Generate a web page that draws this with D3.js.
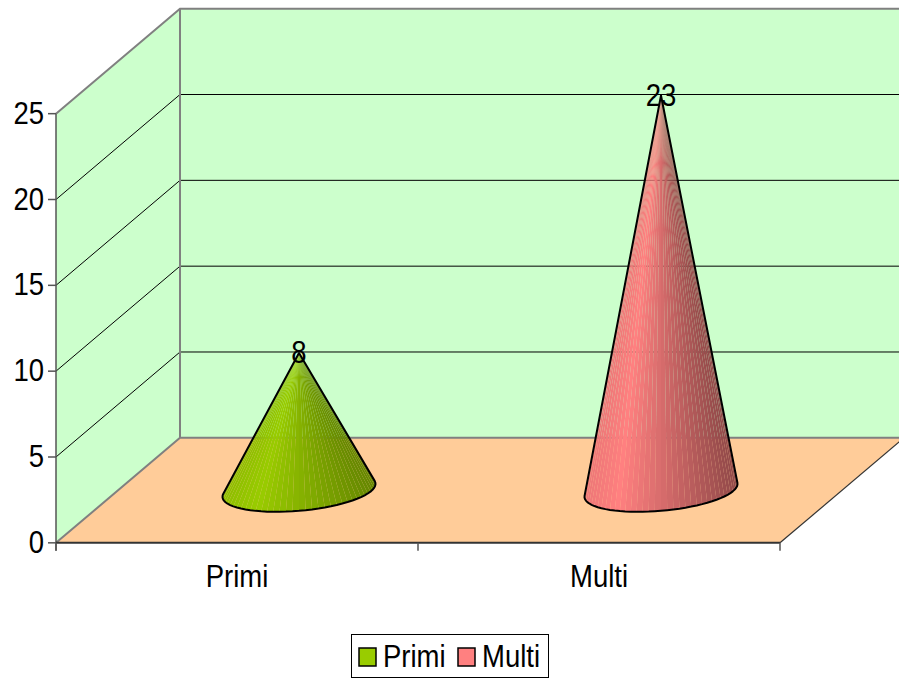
<!DOCTYPE html>
<html>
<head>
<meta charset="utf-8">
<style>
  html, body { margin: 0; padding: 0; background: #fff; }
  svg { display: block; }
  text { font-family: "Liberation Sans", Arial, sans-serif; fill: #000; }
</style>
<script src="https://cdn.jsdelivr.net/npm/d3@7"></script>
</head>
<body>
<svg id="chart" width="899" height="679"></svg>
<script>
// Chart data
const categories = ["Primi", "Multi"];
const values = [8, 23];
const colors = ["#99CC00", "#FF8080"];
const yTicks = [0, 5, 10, 15, 20, 25];

// Plot frame: front plane of the box plus the oblique depth offset
const frontLeft = 56, frontRight = 780, frontBottom = 542.83, frontTop = 113.67;
const depthX = 124, depthY = -105;
const fontSize = 27.5, textStretch = 1.13;

const svg = d3.select("#chart");
const x = d3.scaleBand().domain(categories).range([frontLeft, frontRight]);
const y = d3.scaleLinear().domain([0, 25]).range([frontBottom, frontTop]);
const path = d3.line();

const WALL = "#CCFFCC", FLOOR = "#FFCC99", EDGE = "#808080", DARK = "#333333";

// All labels share one slightly tall letterform
function label(parent, px, py, anchor, content) {
  return parent.append("text")
    .attr("transform", `translate(${px},${py}) scale(1,${textStretch})`)
    .attr("text-anchor", anchor).attr("font-size", fontSize)
    .text(content);
}

// Walls and floor
svg.append("path").attr("fill", WALL).attr("d", path([
  [frontLeft, y(0)], [frontLeft, y(25)],
  [frontLeft + depthX, y(25) + depthY], [frontRight + depthX, y(25) + depthY],
  [frontRight + depthX, y(0) + depthY], [frontLeft + depthX, y(0) + depthY]
]) + "Z");
svg.append("path").attr("fill", FLOOR).attr("d", path([
  [frontLeft, y(0)], [frontRight, y(0)],
  [frontRight + depthX, y(0) + depthY], [frontLeft + depthX, y(0) + depthY]
]) + "Z");

// Gridlines run along the side wall and across the back wall
yTicks.filter(t => t > 0 && t < 25).forEach(t => {
  svg.append("path").attr("fill", "none").attr("stroke", "#000").attr("stroke-width", 1)
    .attr("d", path([
      [frontLeft, y(t)], [frontLeft + depthX, y(t) + depthY], [frontRight + depthX, y(t) + depthY]
    ]));
});

// Box outline
const outline = svg.append("g").attr("fill", "none").attr("stroke", EDGE).attr("stroke-width", 2);
outline.append("path").attr("d", path([
  [frontLeft, y(25)], [frontLeft + depthX, y(25) + depthY], [frontRight + depthX, y(25) + depthY]
]));
outline.append("path").attr("d", path([
  [frontLeft + depthX, y(25) + depthY], [frontLeft + depthX, y(0) + depthY]
]));
outline.append("path").attr("d", path([
  [frontLeft, y(0)], [frontLeft + depthX, y(0) + depthY], [frontRight + depthX, y(0) + depthY]
]));

// Value axis
const axisG = svg.append("g").attr("stroke", "#555").attr("stroke-width", 1.5).attr("fill", "none");
axisG.append("line").attr("x1", frontLeft).attr("x2", frontLeft)
  .attr("y1", y(25)).attr("y2", y(0) + 8);
yTicks.forEach(t => {
  axisG.append("line").attr("x1", frontLeft - 8).attr("x2", frontLeft)
    .attr("y1", y(t)).attr("y2", y(t));
  label(svg, frontLeft - 12, y(t) + 10, "end", t);
});

// Category axis and front and right floor edges
svg.append("path").attr("fill", "none").attr("stroke", DARK).attr("stroke-width", 2)
  .attr("d", path([[frontLeft, y(0)], [frontRight, y(0)]]));
svg.append("path").attr("fill", "none").attr("stroke", DARK).attr("stroke-width", 1.2)
  .attr("d", path([[frontRight, y(0)], [frontRight + depthX, y(0) + depthY]]));
[frontLeft, x("Multi"), frontRight].forEach(px => {
  svg.append("line").attr("stroke", "#555").attr("stroke-width", 1.5)
    .attr("x1", px).attr("x2", px).attr("y1", y(0)).attr("y2", y(0) + 8);
});
categories.forEach(cat => {
  label(svg, x(cat) + x.bandwidth() / 2, 587, "middle", cat);
});

// Cones: faceted side surface above a tilted elliptical base
const baseRx = 76.8, baseRy = 20.4, baseTilt = -5.2 * Math.PI / 180;
const facetCount = 40;
const shadeEnd = [0.66, 0.57];

function toScreen(cx, cy, t) {
  const ex = baseRx * Math.cos(t), ey = baseRy * Math.sin(t);
  return [
    cx + ex * Math.cos(baseTilt) - ey * Math.sin(baseTilt),
    cy + ex * Math.sin(baseTilt) + ey * Math.cos(baseTilt)
  ];
}

categories.forEach((cat, i) => {
  const cx = x(cat) + x.bandwidth() / 2 + depthX / 2;
  const cy = y(0) + depthY / 2;
  const height = y(0) - y(values[i]);
  const apex = [cx, cy - height];
  const shade = d3.scaleLinear().domain([0, 0.22, 1]).range([0.93, 1, shadeEnd[i]]);

  // Tangent parameters of the silhouette, from the apex in the ellipse frame
  const dx = apex[0] - cx, dy = apex[1] - cy;
  const lx = (dx * Math.cos(baseTilt) + dy * Math.sin(baseTilt)) / baseRx;
  const ly = (-dx * Math.sin(baseTilt) + dy * Math.cos(baseTilt)) / baseRy;
  const mid = Math.atan2(ly, lx);
  const span = Math.acos(1 / Math.hypot(lx, ly));
  // Walk the front of the ellipse from the left tangent down to the right tangent
  const tStart = mid - span + 2 * Math.PI, tEnd = mid + span;
  const ts = d3.range(facetCount + 1).map(k => tStart + (tEnd - tStart) * k / facetCount);
  const rim = ts.map(t => toScreen(cx, cy, t));

  const g = svg.append("g");
  const base = d3.color(colors[i]);
  const xExtent = d3.extent(rim, p => p[0]);
  d3.range(facetCount).forEach(k => {
    const f = ((rim[k][0] + rim[k + 1][0]) / 2 - xExtent[0]) / (xExtent[1] - xExtent[0]);
    const s = shade(f);
    g.append("path")
      .attr("fill", d3.rgb(base.r * s, base.g * s, base.b * s))
      .attr("d", path([apex, rim[k], rim[k + 1]]) + "Z");
  });
  g.append("path").attr("fill", "none").attr("stroke", "#000")
    .attr("stroke-width", 2).attr("stroke-linejoin", "round")
    .attr("d", path([apex].concat(rim)) + "Z");

  // Value label sits on the tip
  label(svg, apex[0], apex[1] + 10, "middle", values[i]);
});

// Legend
const legend = svg.append("g");
legend.append("rect").attr("x", 351.5).attr("y", 634.5).attr("width", 197).attr("height", 43)
  .attr("fill", "#fff").attr("stroke", "#000").attr("stroke-width", 1);
const swatchX = [359, 458], labelX = [383, 482];
categories.forEach((cat, i) => {
  legend.append("rect").attr("x", swatchX[i]).attr("y", 648).attr("width", 17).attr("height", 18)
    .attr("fill", colors[i]).attr("stroke", "#000").attr("stroke-width", 1.5);
  label(legend, labelX[i], 667, "start", cat);
});
</script>
</body>
</html>
